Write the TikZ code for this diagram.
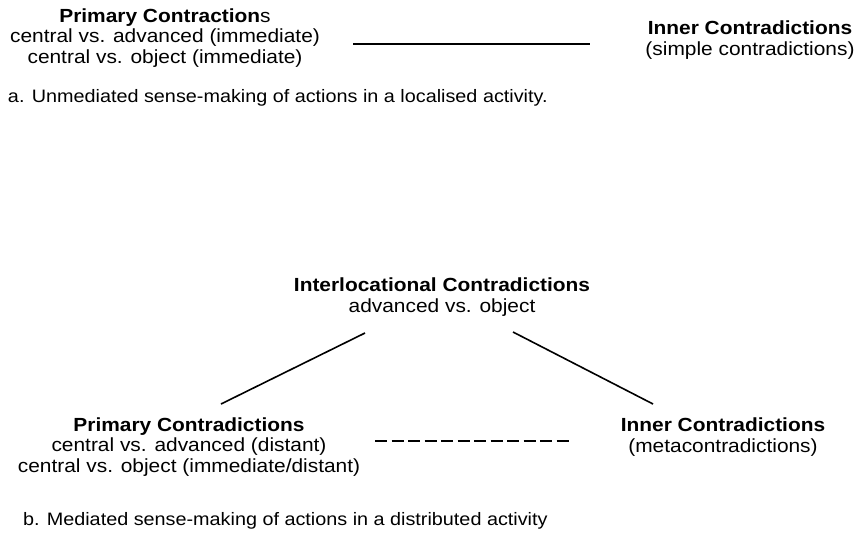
\documentclass[tikz,border=0pt]{standalone}
\usepackage{fontspec}
\setmainfont{Liberation Sans}[FakeStretch=1.1]
\usetikzlibrary{calc}
\begin{document}
\begin{tikzpicture}[x=1pt,y=-1pt,
  every node/.style={inner sep=0pt, outer sep=0pt},
  block/.style={align=center, font=\fontsize{19}{20.5}\selectfont},
  caption/.style={anchor=west, font=\fontsize{18}{20}\selectfont},
  link/.style={line width=1.6pt, black},
  dashlink/.style={line width=1.6pt, black, dash pattern=on 12pt off 4.5pt}]
\useasboundingbox (0,0) rectangle (861,544);

% (a) unmediated sense-making
\node[block] (pa) at (165,38) {\textbf{Primary Contraction}s\\central vs. advanced (immediate)\\central vs. object (immediate)};
\node[block] (ia) at (750,40) {\textbf{Inner Contradictions}\\(simple contradictions)};
\node[caption] (capa) at (8,98) {a. Unmediated sense-making of actions in a localised activity.};
\draw[link] ($(pa.center)+(188,6)$) -- ($(ia.center)+(-160,4)$);

% (b) mediated sense-making
\node[block] (il) at (442,297) {\textbf{Interlocational Contradictions}\\advanced vs. object};
\node[block] (pb) at (189,447) {\textbf{Primary Contradictions}\\central vs. advanced (distant)\\central vs. object (immediate/distant)};
\node[block] (ib) at (723,437) {\textbf{Inner Contradictions}\\(metacontradictions)};
\node[caption] (capb) at (23,521) {b. Mediated sense-making of actions in a distributed activity};

\draw[link] ($(pb.center)+(32,-43)$) -- ($(il.center)+(-77,36)$);
\draw[link] ($(il.center)+(71,35)$) -- ($(ib.center)+(-70,-33)$);
\draw[dashlink] ($(pb.center)+(186,-6)$) -- ($(ib.center)+(-151,4)$);
\end{tikzpicture}
\end{document}
